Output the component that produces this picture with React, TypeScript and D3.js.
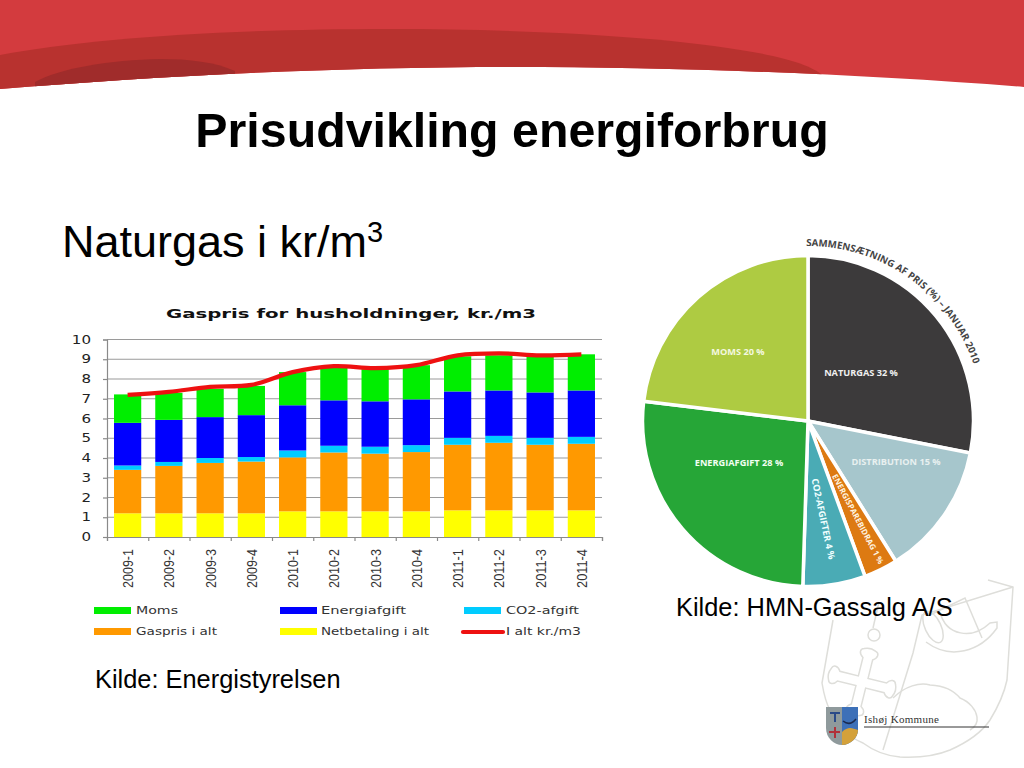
import * as React from 'react';
import * as d3 from 'd3';

const periods = ['2009-1', '2009-2', '2009-3', '2009-4', '2010-1', '2010-2', '2010-3', '2010-4', '2011-1', '2011-2', '2011-3', '2011-4'];
const netbetaling = [1.2, 1.2, 1.2, 1.2, 1.3, 1.3, 1.3, 1.3, 1.35, 1.35, 1.35, 1.35];
const gaspris = [2.2, 2.4, 2.55, 2.62, 2.73, 2.98, 2.92, 3.0, 3.32, 3.42, 3.32, 3.37];
const co2afgift = [0.22, 0.2, 0.25, 0.23, 0.35, 0.34, 0.35, 0.35, 0.35, 0.35, 0.35, 0.35];
const energiafgift = [2.16, 2.13, 2.07, 2.12, 2.29, 2.3, 2.3, 2.32, 2.35, 2.3, 2.3, 2.35];
const moms = [1.44, 1.37, 1.43, 1.48, 1.68, 1.68, 1.63, 1.73, 1.78, 1.78, 1.83, 1.83];
const ialt = [7.2, 7.35, 7.6, 7.7, 8.35, 8.65, 8.55, 8.7, 9.2, 9.3, 9.2, 9.25];

const stackNames = ['Netbetaling i alt', 'Gaspris i alt', 'CO2-afgift', 'Energiafgift', 'Moms'];
const stackSeries = [netbetaling, gaspris, co2afgift, energiafgift, moms];
const stackColors = ['#ffff00', '#ff9900', '#00ccff', '#0000ff', '#00ee00'];

// shares as the slices are drawn in the picture (not the printed percentages)
const pieShares = [28.1, 13, 3.3, 6.1, 26.4, 23.1];
const pieColors = ['#3c3a3b', '#a6c6cc', '#dd7a12', '#4aabb5', '#26a637', '#aecb42'];

const serif = '"Liberation Serif", serif';
const sans = '"Liberation Sans", Arial, sans-serif';
const wide = '"DejaVu Sans", sans-serif';
const pieFont = '"Open Sans", sans-serif';

function BarChart() {
  const ref = React.useRef<SVGGElement>(null);

  React.useEffect(() => {
    const g = d3.select(ref.current);
    g.selectAll('*').remove();

    const x = d3.scaleBand().domain(periods).range([107, 602]).paddingInner(0.34).paddingOuter(0.17);
    const xTicks = d3.scalePoint().domain(d3.range(periods.length + 1).map(String)).range([107, 602]);
    const y = d3.scaleLinear().domain([0, 10]).range([537, 339.5]);

    g.append('g').selectAll('line')
      .data(d3.range(1, 11))
      .enter()
      .append('line')
      .attr('x1', 107).attr('x2', 602)
      .attr('y1', d => y(d)).attr('y2', d => y(d))
      .attr('stroke', '#9a9a9a').attr('stroke-width', 1.2);

    const rows = periods.map((p, i) => {
      const row: { [k: string]: number | string } = { period: p };
      stackNames.forEach((n, k) => { row[n] = stackSeries[k][i]; });
      return row;
    });
    // tslint:disable-next-line:no-any
    const layers = d3.stack<any>().keys(stackNames)(rows);

    layers.forEach((layer, k) => {
      g.append('g').selectAll('rect')
        .data(layer)
        .enter()
        .append('rect')
        .attr('x', d => x(String(d.data.period)) as number)
        .attr('width', x.bandwidth())
        .attr('y', d => y(d[1]))
        .attr('height', d => y(d[0]) - y(d[1]))
        .attr('fill', stackColors[k]);
    });

    const axisY = g.append('g').attr('transform', 'translate(107,0)')
      .call(d3.axisLeft(y).ticks(10).tickSize(4).tickPadding(12));
    axisY.selectAll('path,line').attr('stroke', '#8a8a8a').attr('stroke-width', 1.2);
    axisY.selectAll('text')
      .attr('font-family', wide).attr('font-size', 11.5).attr('fill', '#222')
      .attr('textLength', (d: any) => String(d).length * 9.6)
      .attr('lengthAdjust', 'spacingAndGlyphs');

    const axisX = g.append('g').attr('transform', 'translate(0,537)')
      .call(d3.axisBottom(xTicks).tickSize(4).tickFormat(() => ''));
    axisX.selectAll('path,line').attr('stroke', '#8a8a8a').attr('stroke-width', 1.2);

    g.append('g').selectAll('text')
      .data(periods)
      .enter()
      .append('text')
      .text(d => d)
      .attr('transform', d => `translate(${(x(d) as number) + x.bandwidth() / 2 + 5.5},588) rotate(-90)`)
      .attr('font-family', sans).attr('font-size', 15.5).attr('fill', '#333')
      .attr('textLength', 39)
      .attr('lengthAdjust', 'spacingAndGlyphs');

    const line = d3.line<number>()
      .x((_d, i) => (x(periods[i]) as number) + x.bandwidth() / 2)
      .y(d => y(d))
      .curve(d3.curveCatmullRom.alpha(0.5));
    g.append('path')
      .attr('d', line(ialt))
      .attr('fill', 'none')
      .attr('stroke', '#ee1111')
      .attr('stroke-width', 4.2);
  }, []);

  return <g ref={ref} />;
}

function Legend() {
  const items = [
    { label: 'Moms', color: stackColors[4], sx: 94, tx: 136, ty: 610, w: 42 },
    { label: 'Energiafgift', color: stackColors[3], sx: 280, tx: 321, ty: 610, w: 85 },
    { label: 'CO2-afgift', color: stackColors[2], sx: 464, tx: 506, ty: 610, w: 73 },
    { label: 'Gaspris i alt', color: stackColors[1], sx: 94, tx: 136, ty: 631, w: 81 },
    { label: 'Netbetaling i alt', color: stackColors[0], sx: 280, tx: 321, ty: 631, w: 108 },
  ];
  return (
    <g fontFamily={wide} fontSize={11} fill="#333">
      {items.map(d => (
        <g key={d.label}>
          <rect x={d.sx} y={d.ty - 3} width={37} height={7} fill={d.color} />
          <text x={d.tx} y={d.ty + 4} textLength={d.w} lengthAdjust="spacingAndGlyphs">{d.label}</text>
        </g>
      ))}
      <line x1={463} x2={503} y1={632} y2={632} stroke="#ee1111" strokeWidth={4.2} strokeLinecap="round" />
      <text x={506} y={635} textLength={75} lengthAdjust="spacingAndGlyphs">I alt kr./m3</text>
    </g>
  );
}

function PieChart() {
  const cx = 808, cy = 421, r = 165.5;
  const arcs = d3.pie<number>().sort(null)(pieShares);
  const arc = d3.arc<d3.PieArcDatum<number>>().innerRadius(0).outerRadius(r);
  const labelArc = d3.arc()({ innerRadius: 175, outerRadius: 175, startAngle: -0.01, endAngle: 1.4 }) as string;
  const titlePath = labelArc.split('L')[0];

  return (
    <g>
      <g transform={`translate(${cx},${cy})`}>
        {arcs.map((d, i) => (
          <path key={i} d={arc(d) as string} fill={pieColors[i]} stroke="#fff" strokeWidth={3.5} />
        ))}
        <path id="pieTitle" d={titlePath} fill="none" />
        <text fontFamily={pieFont} fontWeight={700} fontSize={9.7} fill="#444">
          <textPath href="#pieTitle">SAMMENSÆTNING AF PRIS (%) – JANUAR 2010</textPath>
        </text>
      </g>
      <g fontFamily={pieFont} fontWeight={700} fontSize={9.2} textAnchor="middle">
        <text x={861} y={376} fill="#f0f0f0">NATURGAS 32 %</text>
        <text x={896} y={465} fill="#e8f0f0">DISTRIBUTION 15 %</text>
        <text x={739} y={466} fill="#f2fff2">ENERGIAFGIFT 28 %</text>
        <text x={738} y={355} fill="#f4f8e0">MOMS 20 %</text>
        <text transform="translate(823,519) rotate(78)" y={3} fill="#f0ffff">CO2-AFGIFTER 4 %</text>
        <text transform="translate(858,519) rotate(62)" y={3} fontSize={8} fill="#fff4e0">ENERGISPAREBIDRAG 1 %</text>
      </g>
    </g>
  );
}

function Watermark() {
  const cross = 'M-5,-5 L-5,-24 C-10,-27 -10,-32 -6,-33 C-2,-35 2,-35 6,-33 C10,-32 10,-27 5,-24 L5,-5 L24,-5 C27,-10 32,-10 33,-6 C35,-2 35,2 33,6 C32,10 27,10 24,5 L5,5 L5,24 C10,27 10,32 6,33 C2,35 -2,35 -6,33 C-10,32 -10,27 -5,24 L-5,5 L-24,5 C-27,10 -32,10 -33,6 C-35,2 -35,-2 -33,-6 C-32,-10 -27,-10 -24,-5 L-5,-5 Z';
  return (
    <g fill="none" stroke="#dededa" strokeWidth={1.5}>
      <path d="M833 620 L822 683 C824 695 826 703 830 710 C838 725 850 738 863 743 C875 752 888 756 900 757 C920 758 938 755 950 750 C968 742 982 732 990 720 C998 707 1004 694 1007 680 L1013 587 L988 580" />
      <path d="M883 750 L913 653 L922 615 L1013 587" />
      <path d={cross} transform="translate(862,682) rotate(14)" />
      <circle cx={874} cy={635} r={6} />
      <path d="M873 628 L879 602" />
      <ellipse cx={933} cy={627} rx={8} ry={17} transform="rotate(-25 933 627)" />
      <path d="M940 612 C946 636 972 640 990 623 L997 622 L997 628 C980 652 950 660 926 642" />
      <path d="M930 615 L965 598 L982 638" />
      <path d="M893 698 C905 686 920 682 930 685 C945 686 953 690 960 698 C970 702 976 710 977 717 C978 723 975 727 970 730" />
    </g>
  );
}

function Logo() {
  return (
    <g>
      <path d="M826 707 H842 V745 C834 745 826 738 826 728 Z" fill="#8f9a9c" />
      <path d="M842 707 H858 V730 C858 738 850 745 842 745 Z" fill="#3d70b8" />
      <path d="M842 732 C848 726 852 728 858 730 C858 738 850 745 842 745 Z" fill="#d4a13a" />
      <path d="M843 721 C848 725 852 724 856 719" fill="none" stroke="#1b2a50" strokeWidth={1.5} />
      <path d="M830 713 H840 M835 713 V722" stroke="#2a4a88" strokeWidth={2} fill="none" />
      <path d="M834 727 H836 V731 H840 V733 H836 V738 H834 V733 H829 V731 H834 Z" fill="#b0313a" />
      <text x={864} y={723} fontFamily={serif} fontSize={11} fill="#333" textLength={75}>Ishøj Kommune</text>
      <line x1={864} x2={989} y1={727} y2={727} stroke="#333" strokeWidth={1} />
    </g>
  );
}

export default function App() {
  return (
    <svg width={1024} height={768} style={{ position: 'absolute', left: 0, top: 0, background: '#fff' }}>
      <defs>
        <clipPath id="redBand">
          <path d="M0 0 H1024 V87 C860 74 680 67 512 67 C330 67 160 76 0 89 Z" />
        </clipPath>
      </defs>
      <Watermark />
      <g clipPath="url(#redBand)">
        <rect width={1024} height={100} fill="#d33b3e" />
        <path d="M0 55 C90 38 230 29 390 29 C590 29 790 45 822 75 L822 100 H0 Z" fill="#b8322f" />
        <path d="M35 82 C60 68 110 60 160 59 C190 59 215 62 235 71 L235 100 H35 Z" fill="#a02c2b" />
      </g>

      <text x={512} y={147} textAnchor="middle" fontFamily={sans} fontWeight={700} fontSize={48.3} fill="#000">Prisudvikling energiforbrug</text>
      <text x={62} y={257} fontFamily={sans} fontSize={45} fill="#000">Naturgas i kr/m<tspan fontSize={29} dy={-15}>3</tspan></text>

      <text x={166} y={318} fontFamily={wide} fontWeight={700} fontSize={12} fill="#111" textLength={370} lengthAdjust="spacingAndGlyphs">Gaspris for husholdninger, kr./m3</text>
      <BarChart />
      <Legend />
      <text x={95} y={688} fontFamily={sans} fontSize={25.4} fill="#000">Kilde: Energistyrelsen</text>

      <PieChart />
      <text x={676} y={616} fontFamily={sans} fontSize={25.4} fill="#000">Kilde: HMN-Gassalg A/S</text>
      <Logo />
    </svg>
  );
}
